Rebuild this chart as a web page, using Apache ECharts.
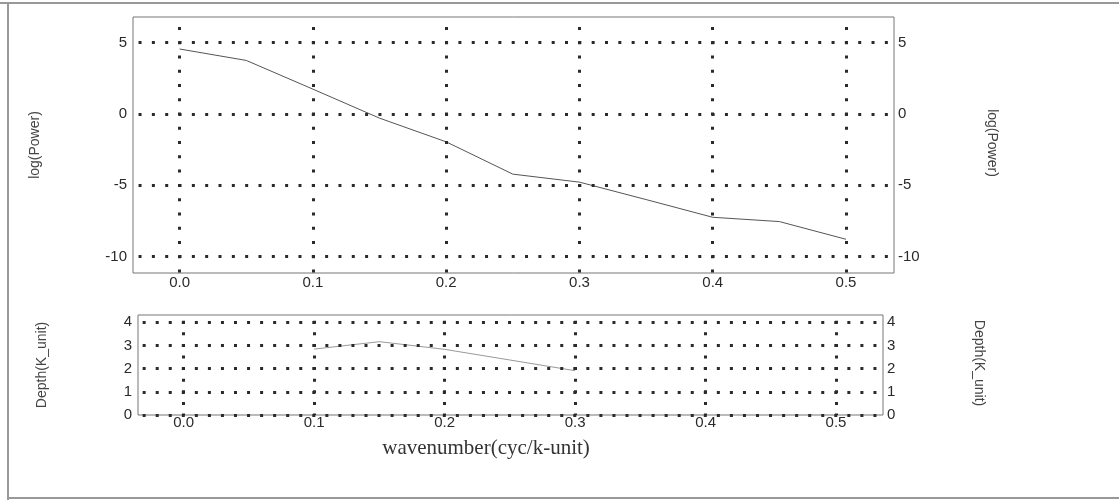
<!DOCTYPE html>
<html><head><meta charset="utf-8">
<script src="https://cdn.jsdelivr.net/npm/echarts@6/dist/echarts.min.js"></script>
<style>html,body{margin:0;padding:0;background:#fff}#c{width:1119px;height:500px}</style>
</head><body><div id="c"></div>
<script>
// ---- data ----
const wavenumber = [0.0, 0.05, 0.1, 0.15, 0.2, 0.25, 0.3, 0.35, 0.4, 0.45, 0.5];
const logPower = [4.54, 3.74, 1.73, -0.3, -1.96, -4.22, -4.78, -6.0, -7.24, -7.54, -8.78];
const depthWavenumber = [0.1, 0.15, 0.2, 0.25, 0.3];
const depthValues = [2.84, 3.16, 2.83, 2.37, 1.91];
const xTicks = [0.0, 0.1, 0.2, 0.3, 0.4, 0.5];
const powerTicks = [-10, -5, 0, 5];
const depthTicks = [0, 1, 2, 3, 4];
const xTitle = 'wavenumber(cyc/k-unit)';
const powerTitle = 'log(Power)';
const depthTitle = 'Depth(K_unit)';

const chart = echarts.init(document.getElementById('c'), null, {renderer: 'canvas'});
const sans = '"Liberation Sans", Arial, sans-serif';
const lab = {fontSize: 15, color: '#2a2a2a', fontFamily: sans};

function xAx(grid, margin) {
  return {
    type: 'value', gridIndex: grid, min: -0.035, max: 0.536,
    axisLine: {show: false}, axisTick: {show: false}, splitLine: {show: false},
    axisLabel: Object.assign({customValues: xTicks, margin: margin,
      formatter: v => v.toFixed(1)}, lab)
  };
}
function yAx(grid, pos, min, max, ticks, margin) {
  return {
    type: 'value', gridIndex: grid, position: pos, min: min, max: max,
    axisLine: {show: false}, axisTick: {show: false}, splitLine: {show: false},
    axisLabel: Object.assign({customValues: ticks, margin: margin}, lab)
  };
}
function dots(period, offset) {
  return {color: '#2a2a2a', width: 3, type: [3, period - 3], dashOffset: offset, cap: 'butt'};
}
const topV = dots(14.27, 13.77), topH = dots(13.327, 7.78);
const botV = dots(11.6, 1.5), botH = dots(13.05, 8.4);

chart.setOption({
  animation: false,
  backgroundColor: '#fff',
  grid: [
    {left: 133, top: 17, width: 761, height: 256, show: true, borderColor: '#777', borderWidth: 1, backgroundColor: 'transparent'},
    {left: 138, top: 315, width: 745, height: 100, show: true, borderColor: '#777', borderWidth: 1, backgroundColor: 'transparent'}
  ],
  xAxis: [xAx(0, 2), xAx(1, 0)],
  yAxis: [
    yAx(0, 'left', -11.14, 6.78, powerTicks, 6),
    yAx(0, 'right', -11.14, 6.78, powerTicks, 4),
    yAx(1, 'left', 0, 4.31, depthTicks, 6),
    yAx(1, 'right', 0, 4.31, depthTicks, 4)
  ],
  series: [
    {
      type: 'line', xAxisIndex: 0, yAxisIndex: 0, showSymbol: false, silent: true,
      data: wavenumber.map((x, i) => [x, logPower[i]]),
      lineStyle: {color: '#555', width: 1},
      markLine: {
        silent: true, symbol: 'none', label: {show: false}, animation: false,
        data: xTicks.map(v => ({xAxis: v, lineStyle: topV}))
          .concat(powerTicks.map(v => ({yAxis: v, lineStyle: topH})))
      }
    },
    {
      type: 'line', xAxisIndex: 1, yAxisIndex: 2, showSymbol: false, silent: true,
      data: depthWavenumber.map((x, i) => [x, depthValues[i]]),
      lineStyle: {color: '#999', width: 1},
      markLine: {
        silent: true, symbol: 'none', label: {show: false}, animation: false,
        data: xTicks.map(v => ({xAxis: v, lineStyle: botV}))
          .concat(depthTicks.map(v => ({yAxis: v, lineStyle: botH})))
      }
    }
  ],
  graphic: [
    {type: 'line', shape: {x1: 0, y1: 3, x2: 1119, y2: 3}, style: {stroke: '#999', lineWidth: 2}, silent: true},
    {type: 'line', shape: {x1: 8, y1: 3, x2: 8, y2: 500}, style: {stroke: '#999', lineWidth: 2}, silent: true},
    {type: 'line', shape: {x1: 8, y1: 498, x2: 1119, y2: 498}, style: {stroke: '#999', lineWidth: 2}, silent: true},
    {type: 'text', x: 35, y: 145, rotation: Math.PI / 2, silent: true,
      style: {text: powerTitle, font: '14px ' + sans, fill: '#444', align: 'center', verticalAlign: 'middle'}},
    {type: 'text', x: 992, y: 143, rotation: -Math.PI / 2, silent: true,
      style: {text: powerTitle, font: '14px ' + sans, fill: '#444', align: 'center', verticalAlign: 'middle'}},
    {type: 'text', x: 42, y: 365, rotation: Math.PI / 2, silent: true,
      style: {text: depthTitle, font: '14px ' + sans, fill: '#444', align: 'center', verticalAlign: 'middle'}},
    {type: 'text', x: 979, y: 363, rotation: -Math.PI / 2, silent: true,
      style: {text: depthTitle, font: '14px ' + sans, fill: '#444', align: 'center', verticalAlign: 'middle'}},
    {type: 'text', x: 486, y: 448, silent: true,
      style: {text: xTitle, font: '21px "Liberation Serif", "Times New Roman", serif', fill: '#333', align: 'center', verticalAlign: 'middle'}}
  ]
});
</script>
</body></html>
